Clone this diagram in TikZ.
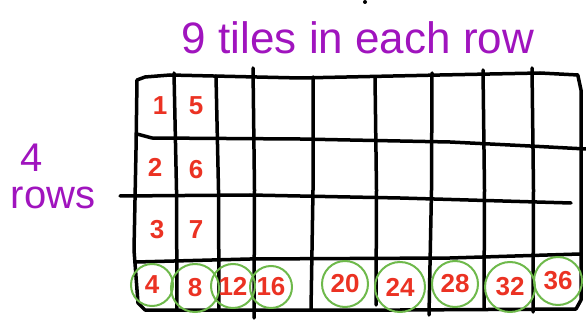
\documentclass[tikz,border=0pt]{standalone}
\usepackage{fontspec}
\setmainfont{Liberation Sans}
\usetikzlibrary{positioning}

\definecolor{penpurple}{RGB}{160,20,190}
\definecolor{penred}{RGB}{235,50,35}
\definecolor{pengreen}{RGB}{110,185,75}

\begin{document}
\begin{tikzpicture}[x=1pt, y=-1pt,
    gridline/.style={line width=3.5pt, line cap=round, line join=round, black},
    title/.style={text=penpurple, font=\fontsize{44}{44}\selectfont, inner sep=0pt},
    num/.style={text=penred, font=\fontsize{26}{26}\selectfont\bfseries, inner sep=1pt},
    ring/.style={draw=pengreen, line width=2pt, circle},
]
\useasboundingbox (0,0) rectangle (586,320);

% Grid lines, hand drawn
\draw[gridline] (578,75) -- (540,73) -- (440,75) -- (300,78) -- (170,75) -- (145,77) -- (137,80)
    -- (136,150) -- (134,250) -- (138,303) -- (145,310) -- (400,310) -- (576,309) -- (581,300)
    -- (581,90) -- (578,76);
\draw[gridline] (137,134) -- (152,138) -- (300,139) -- (450,142) -- (530,146) -- (586,149);
\draw[gridline] (120,196) -- (250,195) -- (400,198) -- (571,203);
\draw[gridline] (136,262) -- (250,259) -- (450,258) -- (580,254);
\foreach \xa/\ya/\xb/\yb in {174/73/177/310, 216/76/219/310, 253/68/254/318, 313/77/311/310,
    375/77/376/305, 432/73/429/315, 483/70/484/308, 532/68/533/312}
  \draw[gridline] (\xa,\ya) -- ({(\xa+\xb)/2+1},190) -- (\xb,\yb);
\fill (365,2) circle (2pt);

% Labels
\node[title] (tiles) at (358,38) {9 tiles in each row};
\node[title, font=\fontsize{40}{40}\selectfont] (four) at (32,158) {4};
\node[title, font=\fontsize{40}{40}\selectfont] (rows) at (53,198) {rows};

% Counted tiles
\node[num] (n1) at (160,106) {1};
\node[num] (n5) at (196,106) {5};
\node[num] (n2) at (155,167) {2};
\node[num] (n6) at (196,170) {6};
\node[num] (n3) at (157,230) {3};
\node[num] (n7) at (196,230) {7};
\foreach \n/\x/\y in {4/152/285, 8/195/288, 12/233/286, 16/271/287, 20/345/284,
    24/400/287, 28/455/284, 32/510/287, 36/558/281}
  \node[num] (n\n) at (\x,\y) {\n};

% Green circles round the last row
\foreach \n/\r in {4/21, 8/24, 12/22, 16/21, 20/23, 24/25, 28/23, 32/25, 36/24}
  \node[ring, minimum size=2*\r pt] (c\n) at (n\n) {};
\end{tikzpicture}
\end{document}
